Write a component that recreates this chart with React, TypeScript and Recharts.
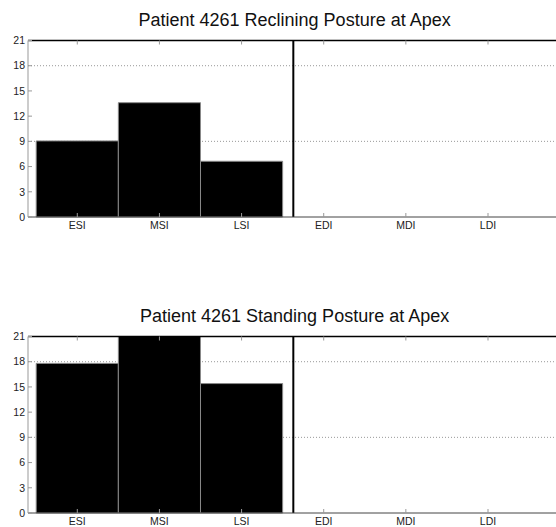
import * as React from 'react';
import { BarChart, Bar, XAxis, YAxis, CartesianGrid, ReferenceLine } from 'recharts';

const categories = ['ESI', 'MSI', 'LSI', 'EDI', 'MDI', 'LDI'];
const recliningValues = [9.05, 13.6, 6.63];
const standingValues = [17.8, 21, 15.4];
const yTicks = [0, 3, 6, 9, 12, 15, 18, 21];
const xTicks = [1, 2, 3, 4, 5, 6];
const gridValues = [9, 18];
const dividerX = 3.63;
const xDomain: [number, number] = [0.4, 6.84];
const yDomain: [number, number] = [0, 21];

const CHART_W = 558;
const CHART_H = 280;
const PLOT_LEFT = 28;
const PLOT_TOP = 40.5;
const X_AXIS_H = 63;
// one category step in pixels; a hair under it so Recharts doesn't shrink the bars
const barWidth = ((CHART_W - PLOT_LEFT) / (xDomain[1] - xDomain[0])) * 0.998;
const font = '"Liberation Sans", Arial, sans-serif';
const tickStyle = { fill: '#222', fontSize: 10.5, fontFamily: font };

const toRows = (values: number[]) =>
  categories.map((name, i) => ({ pos: i + 1, name, value: i < values.length ? values[i] : null }));

const Panel = ({ title, values, top }: { title: string; values: number[]; top: number }) => (
  <div style={{ position: 'absolute', left: 0, top, width: CHART_W, height: CHART_H }}>
    <div
      style={{
        position: 'absolute',
        left: 294.6,
        top: 11,
        transform: 'translateX(-50%)',
        whiteSpace: 'nowrap',
        fontFamily: font,
        fontSize: 18,
        lineHeight: '18px',
        color: '#111',
      }}
    >
      {title}
    </div>
    <BarChart
      width={CHART_W}
      height={CHART_H}
      data={toRows(values)}
      barCategoryGap="0%"
      barGap={0}
      margin={{ top: PLOT_TOP - 1, right: 0, bottom: 0, left: 0 }}
    >
      <CartesianGrid
        vertical={false}
        horizontalValues={gridValues}
        stroke="#999"
        strokeDasharray="1 2"
      />
      <XAxis
        dataKey="pos"
        type="number"
        domain={xDomain}
        ticks={xTicks}
        interval={0}
        height={X_AXIS_H}
        tickSize={-4}
        tickMargin={9}
        tickFormatter={(v: number) => categories[v - 1]}
        tick={tickStyle}
        tickLine={{ stroke: '#999' }}
        axisLine={{ stroke: '#444' }}
      />
      <XAxis
        xAxisId="top"
        orientation="top"
        dataKey="pos"
        type="number"
        domain={xDomain}
        ticks={xTicks}
        interval={0}
        height={1}
        tickSize={-4}
        tickFormatter={() => ''}
        tickLine={{ stroke: '#999' }}
        axisLine={{ stroke: '#000', strokeWidth: 1.5 }}
      />
      <YAxis
        domain={yDomain}
        ticks={yTicks}
        interval={0}
        width={PLOT_LEFT}
        tickSize={-4}
        tickMargin={7}
        tick={tickStyle}
        tickLine={{ stroke: '#999' }}
        axisLine={{ stroke: '#999' }}
      />
      <YAxis
        yAxisId="right"
        orientation="right"
        domain={yDomain}
        ticks={yTicks}
        interval={0}
        width={1}
        tickSize={-4}
        tickFormatter={() => ''}
        tickLine={{ stroke: '#777' }}
        axisLine={{ stroke: '#000' }}
      />
      <Bar
        dataKey="value"
        fill="#000"
        stroke="#888"
        strokeWidth={1}
        barSize={barWidth}
        isAnimationActive={false}
      />
      <ReferenceLine x={dividerX} stroke="#000" strokeWidth={2} />
    </BarChart>
  </div>
);

export default function App() {
  return (
    <div
      style={{
        position: 'absolute',
        left: 0,
        top: 0,
        width: 556,
        height: 527,
        overflow: 'hidden',
        background: '#fff',
      }}
    >
      <Panel title="Patient 4261 Reclining Posture at Apex" values={recliningValues} top={0} />
      <Panel title="Patient 4261 Standing Posture at Apex" values={standingValues} top={296} />
    </div>
  );
}
